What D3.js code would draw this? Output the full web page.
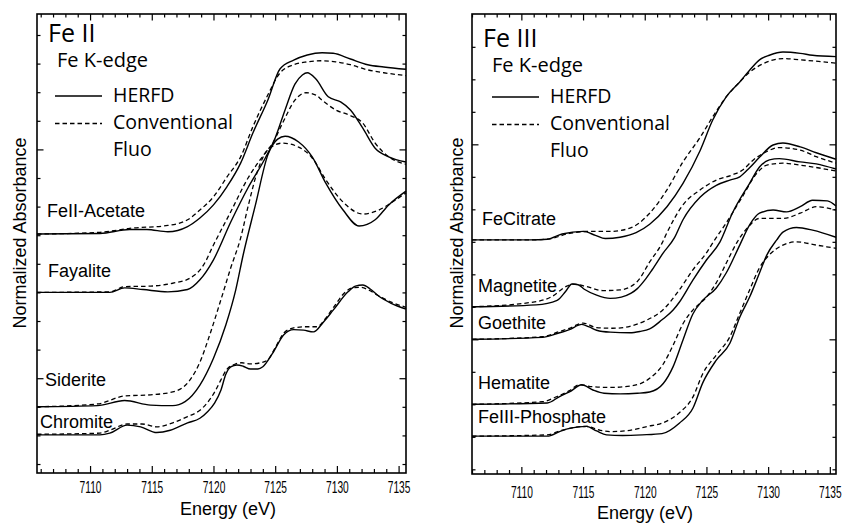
<!DOCTYPE html>
<html>
<head>
<meta charset="utf-8">
<script src="https://cdn.jsdelivr.net/npm/d3@7"></script>
<style>
body{margin:0;background:#fff;}
svg{display:block;background:#fff;}
</style>
</head>
<body>
<svg width="842" height="523"></svg>
<script>
// ---- data: [energy eV, normalized absorbance + offset]
var energyTicks = [7110, 7115, 7120, 7125, 7130, 7135];
var leftNames = ["FeII-Acetate", "Fayalite", "Siderite", "Chromite"];
var rightNames = ["FeCitrate", "Magnetite", "Goethite", "Hematite", "FeIII-Phosphate"];
var legendNames = ["HERFD", "Conventional", "Fluo"];

var acetateHerfd = [[7105.7,4.02],[7110.8,4.03],[7113.2,4.10],[7114.6,4.10],[7116.3,4.06],[7117.9,4.15],[7118.9,4.30],[7120.0,4.53],[7121.1,4.85],[7122.2,5.26],[7123.2,5.79],[7124.4,6.36],[7125.4,6.91],[7126.5,7.06],[7127.6,7.15],[7128.8,7.19],[7129.7,7.18],[7131.1,7.08],[7132.5,6.98],[7133.8,6.94],[7135.6,6.90]];
var acetateConv = [[7105.7,4.02],[7110.8,4.05],[7113.2,4.12],[7116.3,4.17],[7117.9,4.27],[7118.9,4.44],[7120.0,4.67],[7121.1,5.02],[7122.2,5.37],[7123.2,5.90],[7124.4,6.45],[7125.4,6.84],[7126.5,6.98],[7127.6,7.03],[7128.7,7.05],[7129.9,7.03],[7131.1,6.98],[7132.5,6.89],[7133.8,6.84],[7135.6,6.79]];
var fayaliteHerfd = [[7105.7,3.00],[7111.6,3.00],[7112.8,3.08],[7114.3,3.05],[7116.3,3.01],[7117.9,3.05],[7118.9,3.22],[7120.0,3.57],[7121.4,4.23],[7122.8,4.83],[7124.2,5.35],[7125.0,5.70],[7125.8,6.19],[7126.6,6.64],[7127.2,6.80],[7127.6,6.84],[7128.3,6.73],[7129.3,6.42],[7130.3,6.33],[7131.1,6.19],[7132.1,5.87],[7133.1,5.52],[7134.2,5.37],[7135.6,5.28]];
var fayaliteConv = [[7105.7,3.00],[7111.6,3.01],[7112.8,3.10],[7114.9,3.11],[7116.7,3.16],[7118.1,3.25],[7119.2,3.48],[7120.0,3.83],[7121.4,4.41],[7122.8,5.00],[7124.2,5.44],[7124.8,5.61],[7125.6,5.96],[7126.6,6.36],[7127.5,6.49],[7128.3,6.45],[7128.8,6.36],[7129.9,6.19],[7131.0,6.10],[7132.1,5.96],[7133.1,5.61],[7134.2,5.37],[7135.6,5.24]];
var sideriteHerfd = [[7105.7,1.00],[7110.6,1.02],[7112.8,1.11],[7114.9,1.03],[7116.7,1.02],[7117.7,1.09],[7118.9,1.38],[7120.0,1.85],[7121.0,2.43],[7121.8,3.04],[7122.4,3.65],[7123.4,4.53],[7124.4,5.40],[7125.2,5.68],[7125.8,5.73],[7126.9,5.63],[7128.0,5.37],[7129.1,4.91],[7130.5,4.44],[7131.8,4.16],[7133.1,4.27],[7134.2,4.53],[7135.6,4.77]];
var sideriteConv = [[7105.7,1.00],[7110.6,1.05],[7112.8,1.19],[7114.9,1.21],[7116.7,1.26],[7118.1,1.47],[7118.9,1.78],[7119.7,2.26],[7120.6,2.87],[7121.4,3.43],[7122.2,3.95],[7122.8,4.50],[7123.6,5.14],[7124.4,5.49],[7125.6,5.61],[7126.9,5.54],[7128.0,5.35],[7129.1,4.97],[7130.5,4.58],[7132.1,4.37],[7133.4,4.44],[7134.5,4.58],[7135.6,4.74]];
var chromiteHerfd = [[7105.7,0.51],[7110.8,0.51],[7111.6,0.54],[7113.0,0.68],[7114.1,0.65],[7115.4,0.55],[7116.5,0.59],[7117.9,0.72],[7118.9,0.80],[7119.5,0.91],[7120.1,1.07],[7120.6,1.29],[7121.0,1.57],[7121.4,1.70],[7121.9,1.73],[7122.4,1.71],[7123.0,1.66],[7123.6,1.66],[7124.0,1.70],[7124.8,1.94],[7125.7,2.26],[7126.5,2.35],[7127.3,2.34],[7128.1,2.31],[7128.9,2.48],[7129.7,2.69],[7130.9,3.01],[7131.5,3.11],[7132.1,3.13],[7132.7,3.06],[7133.3,2.95],[7134.4,2.81],[7135.6,2.71]];
var chromiteConv = [[7105.7,0.52],[7110.8,0.54],[7111.6,0.59],[7113.0,0.70],[7114.2,0.70],[7115.4,0.65],[7116.7,0.72],[7117.9,0.83],[7118.9,0.94],[7119.5,1.07],[7120.1,1.26],[7120.6,1.47],[7121.1,1.66],[7121.8,1.75],[7122.3,1.77],[7123.0,1.75],[7123.8,1.77],[7124.4,1.82],[7125.0,2.03],[7125.7,2.29],[7126.5,2.38],[7127.5,2.40],[7128.4,2.40],[7129.1,2.55],[7129.7,2.73],[7130.7,3.01],[7131.3,3.08],[7131.9,3.09],[7132.6,3.04],[7133.3,2.95],[7134.4,2.83],[7135.6,2.74]];

var citrateHerfd = [[7106.0,3.53],[7110.7,3.53],[7112.1,3.54],[7113.3,3.62],[7115.0,3.66],[7116.0,3.60],[7116.8,3.55],[7118.0,3.57],[7119.3,3.64],[7120.4,3.77],[7121.8,4.04],[7123.1,4.40],[7124.5,4.91],[7125.5,5.37],[7126.6,5.73],[7127.7,5.96],[7128.5,6.14],[7129.3,6.30],[7130.1,6.37],[7131.2,6.42],[7132.6,6.40],[7133.6,6.37],[7135.5,6.35]];
var citrateConv = [[7106.0,3.53],[7110.7,3.53],[7112.1,3.54],[7113.9,3.63],[7115.3,3.66],[7117.2,3.66],[7118.8,3.71],[7120.4,3.94],[7121.8,4.30],[7123.1,4.73],[7124.5,5.11],[7125.5,5.42],[7126.6,5.73],[7127.7,5.96],[7128.5,6.11],[7129.6,6.24],[7131.2,6.32],[7132.6,6.30],[7135.5,6.25]];
var magnetiteHerfd = [[7106.0,2.50],[7111.2,2.53],[7112.9,2.60],[7113.6,2.74],[7114.1,2.85],[7114.6,2.84],[7115.1,2.77],[7116.1,2.68],[7117.2,2.63],[7118.1,2.65],[7118.9,2.71],[7119.4,2.78],[7120.0,2.91],[7120.6,3.07],[7121.5,3.33],[7122.4,3.56],[7123.1,3.84],[7124.5,4.19],[7125.8,4.37],[7126.9,4.45],[7127.7,4.50],[7128.5,4.64],[7129.3,4.80],[7130.4,4.99],[7131.2,5.02],[7132.6,4.96],[7133.9,4.87],[7135.5,4.77]];
var magnetiteConv = [[7106.0,2.50],[7111.2,2.58],[7112.5,2.66],[7113.6,2.81],[7114.2,2.85],[7115.3,2.81],[7116.6,2.75],[7118.0,2.76],[7119.4,2.89],[7120.4,3.19],[7121.4,3.48],[7121.8,3.64],[7123.1,4.07],[7124.5,4.30],[7125.8,4.45],[7127.1,4.53],[7127.9,4.60],[7128.8,4.76],[7129.9,4.89],[7130.9,4.95],[7132.6,4.91],[7133.9,4.81],[7135.5,4.71]];
var goethiteHerfd = [[7106.0,2.00],[7111.7,2.03],[7112.9,2.09],[7113.9,2.15],[7114.9,2.23],[7115.5,2.19],[7116.1,2.14],[7117.2,2.11],[7118.8,2.10],[7119.6,2.12],[7120.4,2.16],[7121.4,2.30],[7122.3,2.45],[7122.8,2.57],[7123.9,2.91],[7125.0,3.22],[7126.1,3.50],[7127.1,3.94],[7128.5,4.40],[7129.3,4.65],[7130.1,4.76],[7130.9,4.78],[7132.6,4.73],[7133.9,4.70],[7135.5,4.62]];
var goethiteConv = [[7106.0,2.00],[7111.7,2.04],[7113.1,2.12],[7113.9,2.17],[7115.0,2.25],[7116.1,2.18],[7117.4,2.17],[7118.8,2.20],[7120.2,2.30],[7121.4,2.44],[7122.8,2.76],[7123.9,3.07],[7125.0,3.33],[7125.5,3.48],[7126.6,3.79],[7127.9,4.19],[7129.1,4.56],[7129.9,4.68],[7131.2,4.71],[7132.6,4.68],[7135.5,4.59]];
var hematiteHerfd = [[7106.0,1.00],[7112.1,1.02],[7113.1,1.12],[7113.9,1.19],[7114.9,1.30],[7115.8,1.22],[7116.7,1.17],[7118.0,1.16],[7119.4,1.17],[7120.4,1.19],[7121.5,1.32],[7122.3,1.58],[7123.1,1.99],[7123.9,2.39],[7124.7,2.60],[7125.8,2.79],[7126.6,3.02],[7127.7,3.45],[7128.5,3.76],[7129.3,3.94],[7130.4,3.99],[7131.5,3.96],[7132.6,4.04],[7133.6,4.14],[7134.8,4.13],[7135.5,4.05]];
var hematiteConv = [[7106.0,1.00],[7111.7,1.04],[7112.9,1.12],[7113.9,1.21],[7114.7,1.30],[7115.8,1.27],[7117.2,1.26],[7118.8,1.28],[7120.4,1.40],[7121.5,1.62],[7122.3,1.91],[7123.1,2.24],[7123.9,2.45],[7125.0,2.65],[7125.8,2.87],[7126.6,3.17],[7127.5,3.50],[7128.3,3.71],[7129.3,3.86],[7131.2,3.86],[7132.6,3.94],[7133.9,4.04],[7135.5,3.99]];
var phosphateHerfd = [[7106.0,0.51],[7112.1,0.51],[7113.1,0.58],[7113.9,0.63],[7115.3,0.66],[7116.1,0.59],[7116.9,0.53],[7118.2,0.52],[7119.8,0.53],[7121.4,0.55],[7122.8,0.71],[7123.9,0.94],[7124.7,1.33],[7125.8,1.68],[7126.9,1.94],[7127.7,2.34],[7128.5,2.65],[7129.3,3.02],[7129.9,3.30],[7130.7,3.53],[7131.2,3.65],[7132.3,3.72],[7133.6,3.68],[7135.5,3.57]];
var phosphateConv = [[7106.0,0.51],[7112.1,0.53],[7113.1,0.59],[7114.5,0.65],[7115.3,0.66],[7116.4,0.60],[7117.2,0.58],[7118.8,0.60],[7120.2,0.66],[7121.4,0.71],[7122.8,0.87],[7123.9,1.11],[7124.7,1.47],[7125.8,1.76],[7126.9,2.04],[7127.7,2.40],[7128.5,2.76],[7129.3,3.10],[7130.1,3.30],[7131.2,3.45],[7132.3,3.50],[7133.9,3.45],[7135.5,3.40]];


var svg = d3.select("svg");
var labelFont = "'Liberation Sans', Arial, sans-serif";
var legendFont = "'Open Sans', sans-serif";
var dash = "4.5,3";

function drawPanel(p){
  var x = d3.scaleLinear().domain(p.xdom).range([p.left, p.right]);
  var y = d3.scaleLinear().domain(p.ydom).range([p.bottom, p.top]);
  var g = svg.append("g");

  var line = d3.line()
    .x(function(d){ return x(d[0]); })
    .y(function(d){ return y(d[1]); })
    .curve(d3.curveMonotoneX);

  var minorX = d3.range(7106, 7136).filter(function(e){ return e % 5 != 0; });
  var minorY = p.yticks.filter(function(v){ return p.ymajor.indexOf(v) < 0; });

  // inward ticks on all four sides
  g.append("g").attr("transform", "translate(0," + p.bottom + ")")
    .call(d3.axisBottom(x).tickValues(minorX).tickSize(-4).tickFormat(""));
  var bx = g.append("g").attr("transform", "translate(0," + p.bottom + ")")
    .call(d3.axisBottom(x).tickValues(energyTicks).tickSize(-7).tickPadding(p.labelPad).tickFormat(d3.format("d")));
  g.append("g").attr("transform", "translate(0," + p.top + ")")
    .call(d3.axisTop(x).tickValues(minorX).tickSize(-3.5).tickFormat(""));
  g.append("g").attr("transform", "translate(0," + p.top + ")")
    .call(d3.axisTop(x).tickValues(energyTicks).tickSize(-6.5).tickFormat(""));
  g.append("g").attr("transform", "translate(" + p.left + ",0)")
    .call(d3.axisLeft(y).tickValues(minorY).tickSize(-3.5).tickFormat(""));
  g.append("g").attr("transform", "translate(" + p.left + ",0)")
    .call(d3.axisLeft(y).tickValues(p.ymajor).tickSize(-6.5).tickFormat(""));
  g.append("g").attr("transform", "translate(" + p.right + ",0)")
    .call(d3.axisRight(y).tickValues(minorY).tickSize(-3.5).tickFormat(""));
  g.append("g").attr("transform", "translate(" + p.right + ",0)")
    .call(d3.axisRight(y).tickValues(p.ymajor).tickSize(-6.5).tickFormat(""));

  g.selectAll(".domain").remove();
  g.selectAll(".tick line").attr("stroke", "#000").attr("stroke-width", 1.2);

  // condensed tick labels
  bx.selectAll(".tick text")
    .attr("fill", "#000")
    .attr("font-family", labelFont)
    .attr("font-size", "17px")
    .attr("transform", "scale(0.6,1)");

  g.append("rect")
    .attr("x", p.left).attr("y", p.top)
    .attr("width", p.right - p.left).attr("height", p.bottom - p.top)
    .attr("fill", "none").attr("stroke", "#000").attr("stroke-width", 1.6);

  // curves
  p.conv.forEach(function(c){
    g.append("path").datum(c).attr("d", line)
      .attr("fill", "none").attr("stroke", "#000")
      .attr("stroke-width", 1.3).attr("stroke-dasharray", dash);
  });
  p.herfd.forEach(function(c){
    g.append("path").datum(c).attr("d", line)
      .attr("fill", "none").attr("stroke", "#000").attr("stroke-width", 1.4);
  });

  // sample names, sitting on each pre-edge baseline
  p.names.forEach(function(n, i){
    g.append("text")
      .attr("x", p.left + p.nameDx[i])
      .attr("y", y(p.herfd[i][0][1]) - p.nameLift[i])
      .attr("font-family", labelFont).attr("font-size", "18px")
      .text(n);
  });

  // title + legend
  g.append("text").attr("x", p.left + p.titleDx).attr("y", p.titleY)
    .attr("font-family", legendFont).attr("font-size", "25px").text(p.title);
  g.append("text").attr("x", p.left + p.titleDx + 9).attr("y", p.titleY + 25)
    .attr("font-family", legendFont).attr("font-size", "20px").text("Fe K-edge");

  var lx = p.left + p.legDx;
  g.append("line").attr("x1", lx).attr("x2", lx + 47)
    .attr("y1", p.legY).attr("y2", p.legY)
    .attr("stroke", "#000").attr("stroke-width", 1.4);
  g.append("line").attr("x1", lx).attr("x2", lx + 47)
    .attr("y1", p.legY + 27.5).attr("y2", p.legY + 27.5)
    .attr("stroke", "#000").attr("stroke-width", 1.3).attr("stroke-dasharray", dash);
  legendNames.forEach(function(t, i){
    g.append("text").attr("x", lx + 58).attr("y", p.legY + 5.5 + i * 27)
      .attr("font-family", legendFont).attr("font-size", "19.5px").text(t);
  });

  // axis titles
  g.append("text")
    .attr("x", p.xTitleX).attr("y", p.xTitleY)
    .attr("text-anchor", "middle")
    .attr("font-family", labelFont).attr("font-size", "18px")
    .text("Energy (eV)");
  g.append("text")
    .attr("transform", "translate(" + p.yTitleX + ",233) rotate(-90)")
    .attr("text-anchor", "middle")
    .attr("font-family", labelFont).attr("font-size", "18px")
    .text("Normalized Absorbance");
}

drawPanel({
  left: 37, right: 406, top: 14, bottom: 473,
  xdom: [7105.7, 7135.6], ydom: [-0.157, 7.867],
  yticks: d3.range(0, 7.6, 0.5), ymajor: [1.5, 5.5],
  labelPad: 8,
  herfd: [acetateHerfd, fayaliteHerfd, sideriteHerfd, chromiteHerfd],
  conv: [acetateConv, fayaliteConv, sideriteConv, chromiteConv],
  names: leftNames, nameDx: [10, 11, 8, 3], nameLift: [17.5, 15.5, 21, 6.5],
  title: "Fe II", titleDx: 11, titleY: 42,
  legDx: 18, legY: 96,
  xTitleX: 228, xTitleY: 515, yTitleX: 26
});

drawPanel({
  left: 472, right: 836, top: 14, bottom: 474,
  xdom: [7106.0, 7135.5], ydom: [-0.072, 7.005],
  yticks: d3.range(0, 6.6, 0.5), ymajor: [2, 5],
  labelPad: 12,
  herfd: [citrateHerfd, magnetiteHerfd, goethiteHerfd, hematiteHerfd, phosphateHerfd],
  conv: [citrateConv, magnetiteConv, goethiteConv, hematiteConv, phosphateConv],
  names: rightNames, nameDx: [10, 6, 6, 6, 6], nameLift: [15, 14.5, 10, 15.5, 13.5],
  title: "Fe III", titleDx: 11, titleY: 47,
  legDx: 20, legY: 97,
  xTitleX: 645, xTitleY: 518.5, yTitleX: 463
});
</script>
</body>
</html>
